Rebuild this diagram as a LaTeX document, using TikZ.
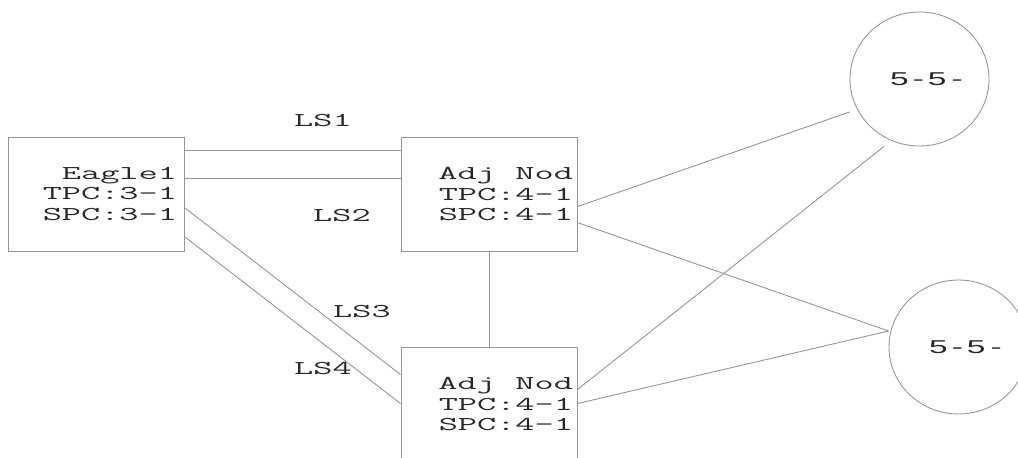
\documentclass[tikz,border=0pt]{standalone}
\usepackage{fontspec}
\usepackage{tikz}
\usetikzlibrary{calc,shapes.geometric}
\newfontfamily\boxfont[FakeStretch=1.9]{Latin Modern Mono}
\newfontfamily\ptfont[FakeStretch=1.8]{Liberation Sans}
\definecolor{linegray}{RGB}{150,150,150}
\definecolor{inkgray}{RGB}{40,40,40}

\tikzset{
  nodebox/.style={draw=linegray, line width=0.9pt, rectangle, minimum height=114pt,
    align=right, text=inkgray, font=\boxfont\fontsize{19.6}{20.5}\selectfont},
  pointcode/.style={draw=linegray, line width=0.9pt, ellipse, minimum width=139pt,
    minimum height=134pt, inner sep=0pt, text=inkgray, font=\ptfont\fontsize{18.6}{20}\selectfont},
  lslabel/.style={anchor=base west, inner sep=0pt, text=inkgray, font=\boxfont\fontsize{19.6}{20.5}\selectfont},
  link/.style={draw=linegray, line width=0.9pt}
}

\begin{document}
\begin{tikzpicture}[x=1pt,y=-1pt]
        \useasboundingbox (0,0) rectangle (1018,458);

        % signalling points
        \node[nodebox, inner xsep=7pt, text width=162pt] (eagle) at (96,194) {Eagle1\\TPC:3-1\\SPC:3-1};
        \node[nodebox, inner xsep=4pt, text width=168pt] (adjtop) at (489,194) {Adj\hspace{1em}Nod\\TPC:4-1\\SPC:4-1};
        \node[nodebox, inner xsep=4pt, text width=168pt] (adjbot) at (489,404) {Adj\hspace{1em}Nod\\TPC:4-1\\SPC:4-1};

        % remote point codes
        \node[pointcode] (cone) at (919.5,79) {\hspace*{14pt}5\hspace{4pt}-\hspace{4pt}5\hspace{5pt}-};
        \node[pointcode] (ctwo) at (958.5,347) {\hspace*{14pt}5\hspace{4pt}-\hspace{4pt}5\hspace{5pt}-};

        % linksets
        \draw[link] ([yshift=-14pt]eagle.north east) -- ([yshift=-14pt]adjtop.north west);
        \draw[link] ([yshift=-42pt]eagle.north east) -- ([yshift=-42pt]adjtop.north west);
        \draw[link] ([yshift=-71pt]eagle.north east) -- ([yshift=-28pt]adjbot.north west);
        \draw[link] ([yshift=-100pt]eagle.north east) -- ([yshift=-57pt]adjbot.north west);
        \draw[link] (adjtop.south) -- (adjbot.north);

        % routes to the far ends
        \draw[link] ([yshift=-70pt]adjtop.north east) -- ([yshift=-33pt]cone.west);
        \draw[link] ([yshift=-86pt]adjtop.north east) -- ([yshift=16pt]ctwo.west);
        \draw[link] ([yshift=-43pt]adjbot.north east) -- ([xshift=-35.5pt]cone.south);
        \draw[link] ([yshift=-57pt]adjbot.north east) -- ([yshift=16pt]ctwo.west);

        \node[lslabel] (lsone) at (294,126) {LS1};
        \node[lslabel] (lstwo) at (313,221) {LS2};
        \node[lslabel] (lsthree) at (333,317) {LS3};
        \node[lslabel] (lsfour) at (294,374) {LS4};

    \end{tikzpicture}
\end{document}
